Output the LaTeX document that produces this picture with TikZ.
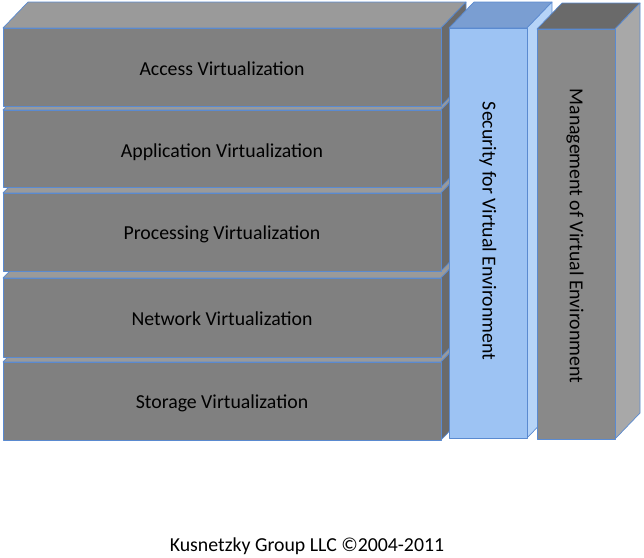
\documentclass[tikz,border=0pt]{standalone}
\usepackage{fontspec}
\setmainfont{Carlito}
\definecolor{edgeblue}{HTML}{5A8AD0}
\definecolor{layfront}{HTML}{808080}
\definecolor{laytop}{HTML}{9A9A9A}
\definecolor{layside}{HTML}{6A6A6A}
\definecolor{secfront}{HTML}{9DC3F3}
\definecolor{sectop}{HTML}{7A9ED2}
\definecolor{secside}{HTML}{B6D4F8}
\definecolor{mgfront}{HTML}{898989}
\definecolor{mgtop}{HTML}{6A6A6A}
\definecolor{mgside}{HTML}{A8A8A8}
\newcommand{\drawcube}[7]{%
  \filldraw[face,fill=#6] (#1,#2) -- ({#1+25},{#2-26}) -- ({#3+25},{#2-26}) -- (#3,#2) -- cycle;
  \filldraw[face,fill=#7] (#3,#2) -- ({#3+25},{#2-26}) -- ({#3+25},{#4-26}) -- (#3,#4) -- cycle;
  \filldraw[face,fill=#5] (#1,#2) rectangle (#3,#4);
}
\begin{document}
\begin{tikzpicture}[x=1pt,y=-1pt,
  face/.style={draw=edgeblue,line width=0.7pt,line join=round},
  lbl/.style={font=\fontsize{19.8}{22}\selectfont,text=black,inner sep=0pt},
  vlbl/.style={font=\fontsize{19.8}{22}\selectfont,text=black,inner sep=0pt,rotate=-90}]
\useasboundingbox (0,0) rectangle (644,557);
% layers, bottom first
\drawcube{3}{362}{441}{440}{layfront}{laytop}{layside}
\drawcube{3}{278}{441}{357}{layfront}{laytop}{layside}
\drawcube{3}{193}{441}{271}{layfront}{laytop}{layside}
\drawcube{3}{110}{441}{187}{layfront}{laytop}{layside}
\drawcube{3}{28}{441}{106}{layfront}{laytop}{layside}
\node[lbl] (storage) at (222,403) {Storage Virtualization};
\node[lbl] (network) at (222,319) {Network Virtualization};
\node[lbl] (processing) at (222,234) {Processing Virtualization};
\node[lbl] (application) at (222,152) {Application Virtualization};
\node[lbl] (access) at (222,69) {Access Virtualization};
% security column
\drawcube{449}{28}{527}{438}{secfront}{sectop}{secside}
\node[vlbl] (security) at (488,231) {Security for Virtual Environment};
% management column
\drawcube{537}{29}{615}{439}{mgfront}{mgtop}{mgside}
\node[vlbl] (management) at (575,236) {Management of Virtual Environment};
% footer
\node[lbl] (footer) at (307,546) {Kusnetzky Group LLC ©2004-2011};
\end{tikzpicture}
\end{document}
